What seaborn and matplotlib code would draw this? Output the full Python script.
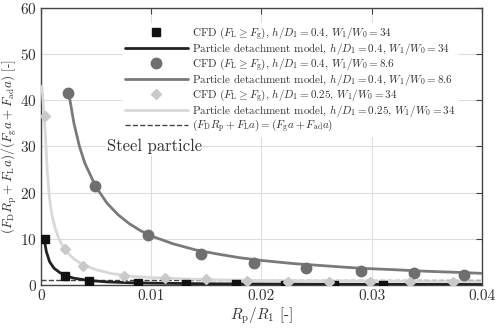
import pandas as pd
import seaborn as sns
import matplotlib.pyplot as plt

# CFD points, h/D1 = 0.4, W1/W0 = 34 (squares)
sq_x = [0.0004, 0.0022, 0.0044, 0.0088, 0.0132, 0.0177, 0.0221, 0.0266, 0.031]
sq_y = [9.9, 2.0, 0.9, 0.35, 0.15, 0.1, 0.08, 0.06, 0.05]

# CFD points, h/D1 = 0.4, W1/W0 = 8.6 (circles)
ci_x = [0.0025, 0.0049, 0.0097, 0.0145, 0.0193, 0.024, 0.029, 0.0338, 0.0384]
ci_y = [41.6, 21.4, 10.75, 6.78, 4.83, 3.75, 3.1, 2.66, 2.1]

# CFD points, h/D1 = 0.25, W1/W0 = 34 (diamonds)
di_x = [0.0004, 0.0022, 0.0038, 0.0075, 0.0113, 0.015, 0.0187, 0.0224, 0.0261, 0.0298, 0.0335, 0.0374]
di_y = [36.5, 7.8, 4.0, 1.96, 1.6, 1.23, 0.87, 0.7, 0.68, 0.62, 0.6, 0.58]

# particle detachment model curves
m1_x = [0.0003, 0.0005, 0.0008, 0.0012, 0.0017, 0.0023, 0.003, 0.0044, 0.006, 0.008, 0.01, 0.015, 0.02, 0.03, 0.04]
m1_y = [10.0, 7.2, 5.0, 3.6, 2.7, 1.95, 1.45, 0.95, 0.65, 0.48, 0.38, 0.25, 0.19, 0.12, 0.1]

m2_x = [0.0025, 0.003, 0.0035, 0.004, 0.005, 0.006, 0.007, 0.008, 0.009, 0.010, 0.012, 0.014, 0.016,
        0.018, 0.020, 0.023, 0.026, 0.029, 0.032, 0.035, 0.038, 0.040]
m2_y = [42.0, 35.0, 30.0, 26.3, 21.2, 17.7, 15.2, 13.3, 11.8, 10.6, 8.9, 7.6, 6.7,
        5.9, 5.3, 4.6, 4.1, 3.6, 3.3, 2.95, 2.7, 2.5]

m3_x = [0.0001, 0.0002, 0.0004, 0.0006, 0.0008, 0.001, 0.0013, 0.0016, 0.002, 0.0025, 0.003, 0.0038,
        0.005, 0.0063, 0.008, 0.01, 0.013, 0.016, 0.02, 0.025, 0.03, 0.04]
m3_y = [43.0, 40.0, 33.0, 24.0, 18.5, 15.2, 12.3, 10.2, 8.3, 6.8, 5.6, 4.4,
        3.3, 2.5, 1.9, 1.6, 1.3, 1.1, 0.95, 0.85, 0.78, 0.7]

lbl_cfd = r'CFD ($F_\mathrm{L} \geq F_\mathrm{g}$), '
lbl_mod = r'Particle detachment model, '
cases = [r'$h/D_1 = 0.4$, $W_1/W_0 = 34$',
         r'$h/D_1 = 0.4$, $W_1/W_0 = 8.6$',
         r'$h/D_1 = 0.25$, $W_1/W_0 = 34$']
lbl_eq = r'$(F_\mathrm{D}R_\mathrm{p} + F_\mathrm{L}a) = (F_\mathrm{g}a + F_\mathrm{ad}a)$'

sns.set_style('whitegrid')
plt.rcParams['font.family'] = 'cmr10'
plt.rcParams['mathtext.fontset'] = 'cm'
plt.rcParams['axes.formatter.use_mathtext'] = True

fig = plt.figure(figsize=(4.98, 3.29), dpi=100)
ax = fig.add_axes([0.082, 0.134, 0.886, 0.842])

pts = [(sq_x, sq_y, 's', '#111111', 6),
       (ci_x, ci_y, 'o', '#6f6f6f', 7.5),
       (di_x, di_y, 'D', '#c9c9c9', 5.5)]
curves = [(m1_x, m1_y, '#222222'), (m2_x, m2_y, '#7a7a7a'), (m3_x, m3_y, '#d8d8d8')]

for i in range(3):
    px, py, mk, mc, ms = pts[i]
    cx, cy, lc = curves[i]
    ax.plot(px, py, linestyle='none', marker=mk, color=mc, markersize=ms,
            label=lbl_cfd + cases[i], zorder=4)
    sns.lineplot(x=cx, y=cy, color=lc, linewidth=2, ax=ax, sort=False,
                 label=lbl_mod + cases[i], zorder=3)

ax.axhline(1, color='#444444', linestyle='--', linewidth=1, label=lbl_eq, zorder=2)

ax.set_xlim(0, 0.04)
ax.set_ylim(0, 60)
ax.set_xticks([0, 0.01, 0.02, 0.03, 0.04])
ax.set_xticklabels(['0', '0.01', '0.02', '0.03', '0.04'])
ax.set_yticks(range(0, 61, 10))
ax.grid(True, color='#dddddd', linewidth=0.8)
for s in ax.spines.values():
    s.set_color('#444444')
    s.set_linewidth(1)
ax.tick_params(direction='in', length=4, top=True, right=True, labelsize=11, pad=3,
               color='#444444', labelcolor='#333333')

ax.set_xlabel(r'$R_\mathrm{p}/R_1$ [-]', fontsize=11, color='#333333', labelpad=2)
ax.set_ylabel(r'$(F_\mathrm{D}R_\mathrm{p} + F_\mathrm{L}a)/(F_\mathrm{g}a + F_\mathrm{ad}a)$ [-]',
              fontsize=9.5, color='#333333', labelpad=1)

ax.text(0.006, 30, 'Steel particle', fontsize=12, va='center', color='#333333',
        bbox=dict(facecolor='white', edgecolor='none', pad=1))

ax.legend(loc='upper right', bbox_to_anchor=(0.957, 0.965), fontsize=8, frameon=True,
          facecolor='white', edgecolor='none', framealpha=1, handlelength=5.7,
          labelspacing=-0.09, borderpad=0.2, handletextpad=0.35, labelcolor='#333333')

fig.savefig('out.png', dpi=100)
